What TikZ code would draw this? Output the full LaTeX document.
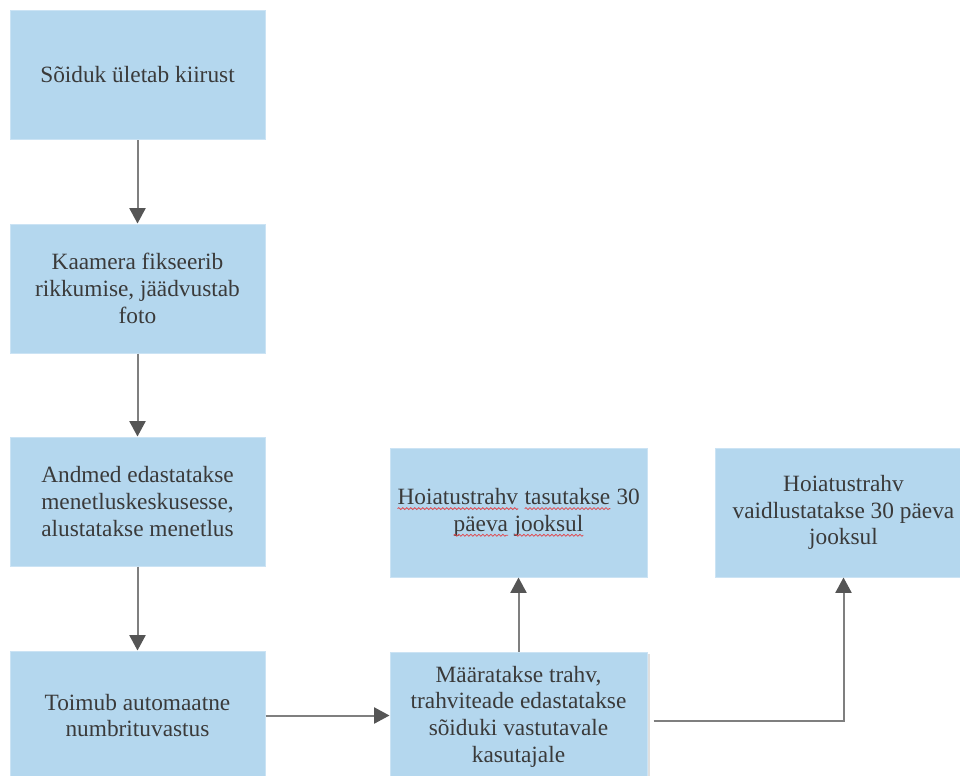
\documentclass[tikz,border=0pt]{standalone}
\usepackage{fontspec}
\setmainfont{Liberation Serif}
\usetikzlibrary{arrows.meta,shadows,decorations.pathmorphing}
\definecolor{boxfill}{HTML}{B4D7EE}
\definecolor{boxedge}{HTML}{CBE3F4}
\definecolor{txt}{HTML}{3A3A3A}
\definecolor{linec}{HTML}{7F7F7F}
\definecolor{tipc}{HTML}{555555}
\definecolor{squigc}{HTML}{E0474C}
\newcommand\sqw[1]{\tikz[baseline=(w.base)]{\node[inner sep=0pt,outer sep=0pt,minimum width=0pt,minimum height=0pt,draw=none,fill=none,text=txt](w){#1};\draw[squigc,line width=0.6pt,decorate,decoration={snake,amplitude=0.7pt,segment length=3pt}] ([yshift=-3pt]w.base west) -- ([yshift=-3pt]w.base east);}}
\begin{document}
\begin{tikzpicture}[x=0.75pt,y=-0.75pt,
  box/.style={rectangle,fill=boxfill,draw=boxedge,line width=0.75pt,
    minimum width=191.25pt,minimum height=96.75pt,align=center,text=txt,
    font=\fontsize{17.5pt}{20pt}\selectfont,inner sep=2pt},
  wbox/.style={box,minimum width=192.75pt},
  conn/.style={draw=linec,line width=1.5pt,-{Triangle[width=12pt,length=11.5pt,color=tipc,fill=tipc]}}]
\useasboundingbox (0,0) rectangle (960,775);
\clip (0,0) rectangle (960,775);
\fill[white] (0,0) rectangle (960,775);

\node[box] (b1) at (137.5,75) {Sõiduk ületab kiirust};
\node[box] (b2) at (137.5,288.5) {Kaamera fikseerib\\rikkumise, jäädvustab\\foto};
\node[box] (b3) at (137.5,501.5) {Andmed edastatakse\\menetluskeskusesse,\\alustatakse menetlus};
\node[box] (b4) at (137.5,715.5) {Toimub automaatne\\numbrituvastus};
\node[wbox,drop shadow={opacity=0.25,shadow xshift=2pt,shadow yshift=-1.5pt}] (b5) at (518.5,716.5) {Määratakse trahv,\\trahviteade edastatakse\\sõiduki vastutavale\\kasutajale};
\node[wbox] (b6) at (518.5,512.5) {\sqw{Hoiatustrahv} \sqw{tasutakse} 30\\\sqw{päeva} \sqw{jooksul}};
\node[wbox] (b7) at (843.5,512.5) {Hoiatustrahv\\vaidlustatakse 30 päeva\\jooksul};

\draw[conn] (b1.south) -- (b2.north);
\draw[conn] (b2.south) -- (b3.north);
\draw[conn] (b3.south) -- (b4.north);
\draw[conn] (b4.east) -- (b4.east -| b5.west);
\draw[conn] (b5.north) -- (b6.south);
\coordinate (b5out) at ([xshift=4.5pt,yshift=-3.4pt]b5.east);
\draw[conn] (b5out) -| (b7.south);
\end{tikzpicture}
\end{document}
